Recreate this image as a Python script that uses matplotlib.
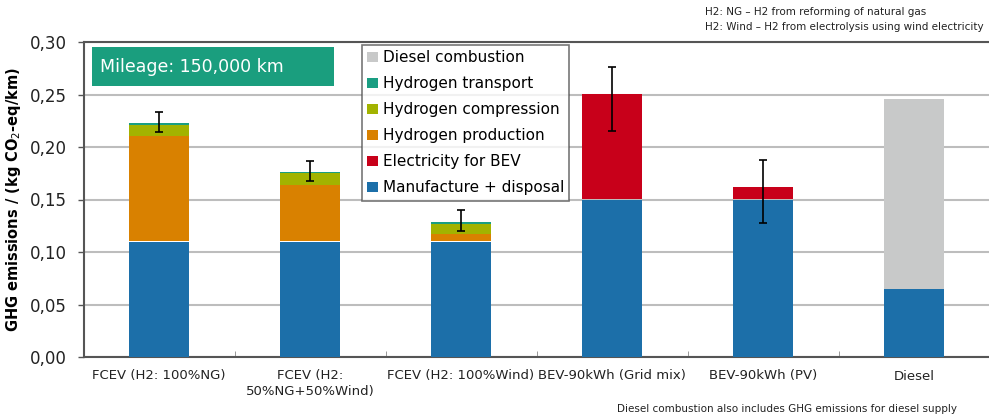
import matplotlib
matplotlib.use("Agg")
import matplotlib.pyplot as plt
import numpy as np
from matplotlib.patches import Patch

categories = ["FCEV (H2: 100%NG)", "FCEV (H2:\n50%NG+50%Wind)", "FCEV (H2: 100%Wind)",
              "BEV-90kWh (Grid mix)", "BEV-90kWh (PV)", "Diesel"]
manufacture = [0.110, 0.110, 0.110, 0.150, 0.150, 0.065]
electricity = [0.0, 0.0, 0.0, 0.100, 0.012, 0.0]
h2_production = [0.100, 0.054, 0.007, 0.0, 0.0, 0.0]
h2_compression = [0.011, 0.011, 0.010, 0.0, 0.0, 0.0]
h2_transport = [0.002, 0.0015, 0.002, 0.0, 0.0, 0.0]
diesel_comb = [0.0, 0.0, 0.0, 0.0, 0.0, 0.181]
err_low = [0.214, 0.1676, 0.1203, 0.2155, 0.128, np.nan]
err_high = [0.233, 0.1867, 0.140, 0.2765, 0.188, np.nan]
yticks = [0.0, 0.05, 0.10, 0.15, 0.20, 0.25, 0.30]

series = [
    ("Manufacture + disposal", manufacture, "#1c6fa9"),
    ("Electricity for BEV", electricity, "#c8001a"),
    ("Hydrogen production", h2_production, "#d98100"),
    ("Hydrogen compression", h2_compression, "#a2b300"),
    ("Hydrogen transport", h2_transport, "#1a9e82"),
    ("Diesel combustion", diesel_comb, "#c8c9c9"),
]

fig = plt.figure(figsize=(9.89, 4.16), dpi=100)
ax = fig.add_axes([83.5/989, 1-357/416, (989.5-83.5)/989, (357-42)/416])

x = np.arange(len(categories))
bottom = np.zeros(len(categories))
for name, vals, col in series:
    v = np.array(vals)
    ax.bar(x, v, 0.4, bottom=bottom, color=col, zorder=3, linewidth=0)
    bottom += v

mid = (np.array(err_low) + np.array(err_high)) / 2
half = (np.array(err_high) - np.array(err_low)) / 2
ok = ~np.isnan(mid)
ax.errorbar(x[ok], mid[ok], yerr=half[ok], fmt="none", ecolor="black",
            elinewidth=1.2, capsize=3, capthick=1.2, zorder=5)

ax.set_xlim(-0.5, 5.5)
ax.set_ylim(0, 0.30)
ax.set_yticks(yticks)
ax.set_yticklabels([f"{t:.2f}".replace(".", ",") for t in yticks], fontsize=12, color="#222222")
ax.yaxis.grid(True, color="#bdbdbd", linewidth=1.5, zorder=0)
ax.set_axisbelow(True)
ax.tick_params(axis="y", length=4, width=1, color="#555555", pad=8)
ax.set_xticks(x)
ax.set_xticklabels(categories, fontsize=9.5, color="#222222")
ax.tick_params(axis="x", length=0, pad=9)
ax.set_xticks(np.arange(0.5, 5.5, 1), minor=True)
ax.tick_params(axis="x", which="minor", length=4, direction="in", color="#888888")
for s in ["left", "bottom", "top"]:
    ax.spines[s].set_color("#555555")
    ax.spines[s].set_linewidth(1.5)
ax.spines["right"].set_visible(False)

ax.set_ylabel("GHG emissions / (kg CO$_2$-eq/km)", fontsize=10.5, fontweight="bold", labelpad=5)

# Mileage box
fig.patches.append(plt.Rectangle((91.7/989, 1-86/416), (334-91.7)/989, (86-47.3)/416,
                                 transform=fig.transFigure, facecolor="#1a9e7e",
                                 edgecolor="none", zorder=6))
fig.text(100/989, 1-67/416, "Mileage: 150,000 km", color="white", fontsize=12.5,
         va="center", ha="left", zorder=7)

handles = [Patch(facecolor=c, label=n) for n, _, c in series][::-1]
leg = ax.legend(handles=handles, loc="upper left",
                fontsize=11, frameon=True, fancybox=False, edgecolor="#555555",
                handlelength=0.7, handleheight=0.7, handletextpad=0.3,
                labelspacing=0.72, borderpad=0.35, borderaxespad=0)
leg.get_frame().set_linewidth(1.2)
leg.set_zorder(8)
leg.set_bbox_to_anchor((362/989, 1-45/416), transform=fig.transFigure)

fig.text(705/989, 1-12/416, "H2: NG \u2013 H2 from reforming of natural gas", fontsize=7.5,
         va="center", ha="left", color="#222222")
fig.text(705/989, 1-27/416, "H2: Wind \u2013 H2 from electrolysis using wind electricity", fontsize=7.5,
         va="center", ha="left", color="#222222")
fig.text(617/989, 1-409/416, "Diesel combustion also includes GHG emissions for diesel supply",
         fontsize=7.5, va="center", ha="left", color="#222222")

fig.savefig("out.png", dpi=100)
